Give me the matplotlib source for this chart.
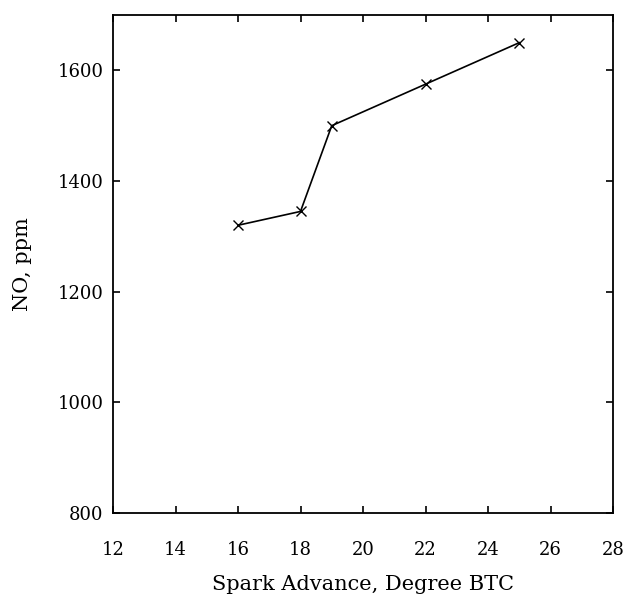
import matplotlib.pyplot as plt

spark_advance = [16, 18, 19, 22, 25]
no_ppm = [1320, 1345, 1500, 1575, 1650]

x_ticks = [12, 14, 16, 18, 20, 22, 24, 26, 28]
y_ticks = [800, 1000, 1200, 1400, 1600]

plt.rcParams['font.family'] = ['DejaVu Serif']

fig = plt.figure(figsize=(6.26, 5.98), dpi=100)
ax = fig.add_axes([113 / 626, 1 - 513 / 598, 500 / 626, 498 / 598])

ax.plot(spark_advance, no_ppm, color="black", linewidth=1.2, marker="x",
        markersize=7, markeredgewidth=1.0)

ax.set_xlim(12, 28)
ax.set_ylim(800, 1700)
ax.set_xticks(x_ticks)
ax.set_yticks(y_ticks)
ax.tick_params(direction="in", top=True, right=True, length=5, width=1.2,
               labelsize=13)
ax.tick_params(axis="x", pad=20)
ax.tick_params(axis="y", pad=7)
for s in ax.spines.values():
    s.set_linewidth(1.3)

ax.set_xlabel("Spark Advance, Degree BTC", fontsize=15, labelpad=12)
ax.set_ylabel("NO, ppm", fontsize=15, labelpad=18)

fig.savefig("out.png", dpi=100)
